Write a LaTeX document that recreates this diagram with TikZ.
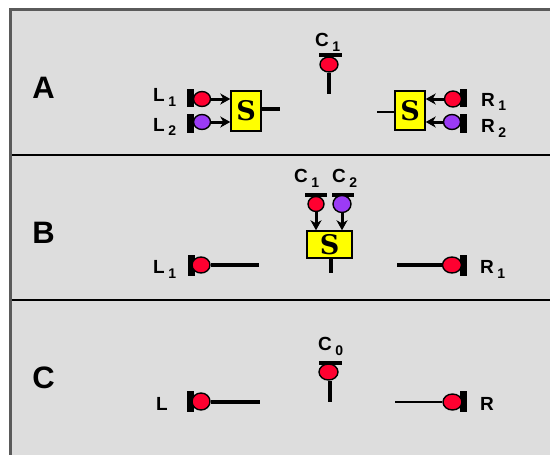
\documentclass[tikz,border=0pt]{standalone}
\usepackage{fontspec}
\setmainfont{Liberation Sans}
\newfontfamily\sboxfont{DejaVu Serif}
\usetikzlibrary{shapes.geometric,arrows.meta}
\definecolor{bg}{HTML}{DDDDDD}
\definecolor{framec}{HTML}{5A5A5A}
\definecolor{bred}{HTML}{FF0030}
\definecolor{bpurp}{HTML}{9B3BF5}
\definecolor{byel}{HTML}{FFFF00}
\newcommand\mysub[1]{\hspace{3.5pt}\raisebox{-5pt}{\fontsize{14}{14}\selectfont #1}}
\tikzset{
  conarrow/.style={draw=black, line width=3pt, arrows={-Stealth[length=10pt,width=11pt,inset=3pt]}}
}
\begin{document}
\begin{tikzpicture}[x=1pt,y=-1pt,
  lbl/.style={font=\fontsize{19}{19}\selectfont\bfseries, inner sep=0, anchor=base west},
  sec/.style={font=\fontsize{31}{31}\selectfont\bfseries, inner sep=0, anchor=base},
  bulb/.style={ellipse, draw=black, line width=1.4pt, inner sep=0, minimum width=17pt, minimum height=15pt},
  bulbr/.style={bulb, fill=bred},
  bulbp/.style={bulb, fill=bpurp},
  capv/.style={rectangle, fill=black, inner sep=0, minimum width=7pt, minimum height=20pt},
  caph/.style={rectangle, fill=black, inner sep=0, minimum width=23pt, minimum height=4.5pt},
  sbox/.style={rectangle, draw=black, fill=byel, line width=1.4pt, inner sep=0,
    font=\sboxfont\bfseries\fontsize{27}{27}\selectfont},
  wire/.style={line width=4pt},
  thinwire/.style={line width=2.5pt},
  divider/.style={line width=2pt, black}
]
\useasboundingbox (0,0) rectangle (550,455);
\fill[white] (0,0) rectangle (550,455);
% frame
\path[fill=bg, draw=framec, line width=3pt] (10.5,9.5) rectangle (570,475);
\coordinate (d1a) at (12,155); \coordinate (d1b) at (550,155);
\coordinate (d2a) at (12,300); \coordinate (d2b) at (550,300);
\draw[divider] (d1a) -- (d1b);
\draw[divider] (d2a) -- (d2b);
% section letters
\node[sec] (secA) at (43.5,99) {A};
\node[sec] (secB) at (43.5,243) {B};
\node[sec] (secC) at (43.5,388) {C};

% ===== Section A =====
\node[lbl] (lC1A) at (315,46) {C\mysub{1}};
\node[caph] (capC1A) at (330,55) {};
\node[bulbr, minimum width=18pt, minimum height=15pt] (bC1A) at (329,64.5) {};
\coordinate (sC1A) at (329,94);
\draw[wire] (bC1A.south) -- (sC1A);

\node[lbl] (lL1A) at (153,101) {L\mysub{1}};
\node[lbl] (lL2A) at (153,131) {L\mysub{2}};
\node[capv, minimum height=18pt] (capL1A) at (190,97.5) {};
\node[capv, minimum height=19pt] (capL2A) at (190,123) {};
\node[bulbr, minimum width=17pt, minimum height=15pt] (bL1A) at (202,99) {};
\node[bulbp, minimum width=17pt, minimum height=15pt] (bL2A) at (202,122) {};
\node[sbox, minimum width=30pt, minimum height=40pt] (SL) at (246,111) {S};
\path[conarrow] (bL1A.east) -- (bL1A.east -| SL.west);
\path[conarrow] (bL2A.east) -- (bL2A.east -| SL.west);
\coordinate (oL) at (280,109);
\draw[wire] (SL.east |- oL) -- (oL);

\node[sbox, minimum width=30pt, minimum height=39pt] (SR) at (410,110.5) {S};
\coordinate (oR) at (377,112);
\draw[thinwire] (oR) -- (oR -| SR.west);
\node[capv, minimum height=18pt] (capR1A) at (463,97.5) {};
\node[capv, minimum height=19pt] (capR2A) at (463,123) {};
\node[bulbr, minimum width=17pt, minimum height=16pt] (bR1A) at (453,99) {};
\node[bulbp, minimum width=17pt, minimum height=15pt] (bR2A) at (452,122) {};
\path[conarrow] (bR1A.west) -- (bR1A.west -| SR.east);
\path[conarrow] (bR2A.west) -- (bR2A.west -| SR.east);
\node[lbl] (lR1A) at (481,106) {R\mysub{1}};
\node[lbl] (lR2A) at (481,132) {R\mysub{2}};

% ===== Section B =====
\node[lbl] (lC1B) at (294,182) {C\mysub{1}};
\node[lbl] (lC2B) at (332,182) {C\mysub{2}};
\node[caph, minimum width=22pt] (capC1B) at (316,195) {};
\node[caph, minimum width=22pt] (capC2B) at (343,195) {};
\node[bulbr, minimum width=16pt, minimum height=15pt] (bC1B) at (316,204) {};
\node[bulbp, minimum width=18pt, minimum height=17pt] (bC2B) at (342,204) {};
\node[sbox, minimum width=45pt, minimum height=27pt] (SB) at (329.5,244.5) {S};
\path[conarrow] (bC1B.south) -- (bC1B.south |- SB.north);
\path[conarrow] (bC2B.south) -- (bC2B.south |- SB.north);
\coordinate (sB) at (331,273);
\draw[wire] (sB |- SB.south) -- (sB);

\node[lbl] (lL1B) at (153,273) {L\mysub{1}};
\node[capv, minimum height=21pt] (capL1B) at (191,265.5) {};
\node[bulbr, minimum width=18pt, minimum height=16pt] (bL1B) at (201,265) {};
\coordinate (eL1B) at (259,265);
\draw[wire] (bL1B.east) -- (eL1B);

\coordinate (eR1B) at (397,265);
\node[capv, minimum height=21pt] (capR1B) at (463.5,265.5) {};
\node[bulbr, minimum width=19pt, minimum height=16pt] (bR1B) at (452,265) {};
\draw[wire] (eR1B) -- (bR1B.west);
\node[lbl] (lR1B) at (480,273) {R\mysub{1}};

% ===== Section C =====
\node[lbl] (lC0C) at (318,350) {C\mysub{0}};
\node[caph] (capC0C) at (330.5,363) {};
\node[bulbr, minimum width=19pt, minimum height=16pt] (bC0C) at (328.5,372) {};
\coordinate (sC0C) at (329.5,402);
\draw[wire] (sC0C |- bC0C.south) -- (sC0C);

\node[lbl] (lLC) at (156,410) {L};
\node[capv, minimum height=21pt] (capLC) at (190.5,401.5) {};
\node[bulbr, minimum width=18pt, minimum height=17pt] (bLC) at (201,401.5) {};
\coordinate (eLC) at (260,401.5);
\draw[wire] (bLC.east) -- (eLC);

\coordinate (eRC) at (395,402);
\node[capv, minimum height=21pt] (capRC) at (463.5,401.5) {};
\node[bulbr, minimum width=19pt, minimum height=16pt] (bRC) at (452.5,402) {};
\draw[thinwire] (eRC) -- (bRC.west);
\node[lbl] (lRC) at (480,410) {R};
\end{tikzpicture}
\end{document}
